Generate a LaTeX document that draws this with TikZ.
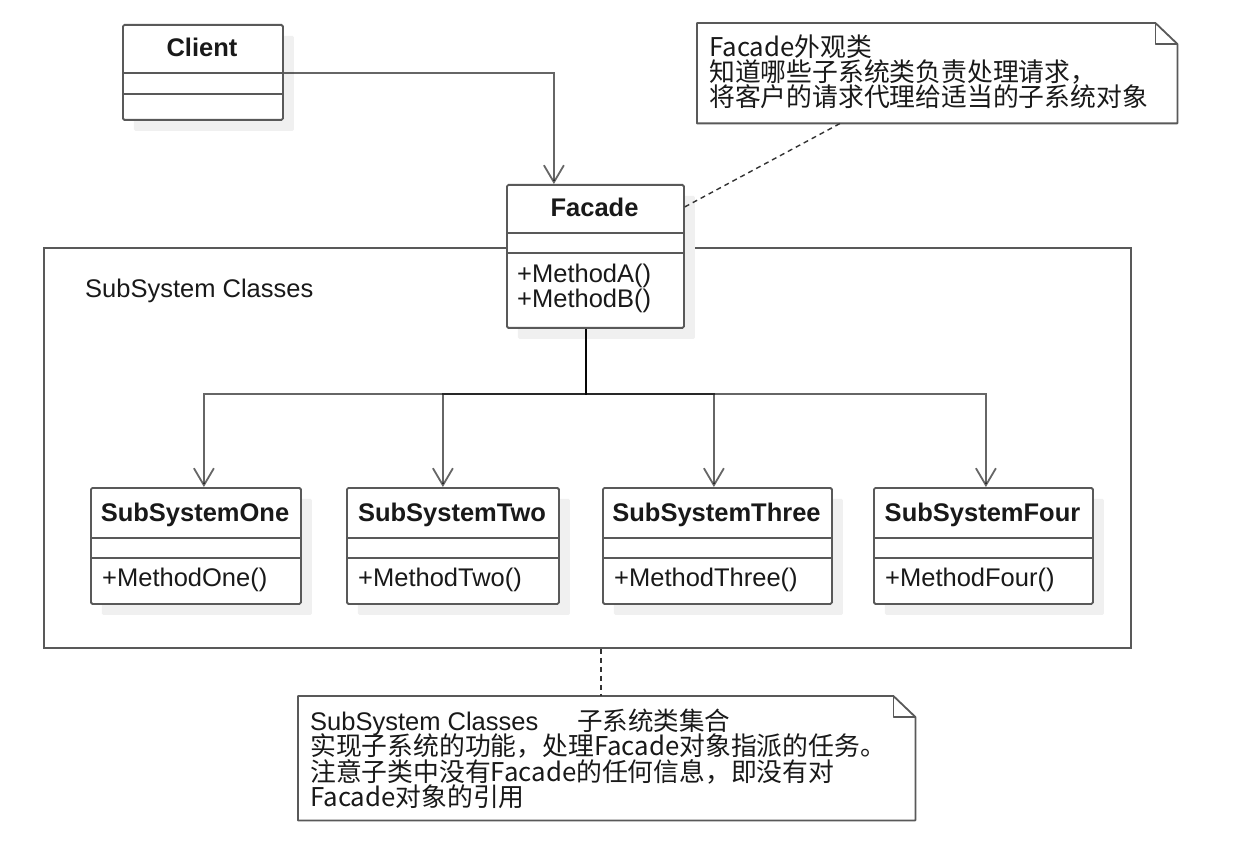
\documentclass[tikz,border=0pt]{standalone}
\usepackage{fontspec}
\setmainfont{Liberation Sans}
\newfontfamily\cjk{Noto Sans CJK SC}
\usetikzlibrary{arrows.meta,shadows}
\begin{document}
\begin{tikzpicture}[x=1pt,y=-1pt,
  every node/.style={font=\fontsize{25.5}{30}\selectfont, text=black!90, inner sep=0pt},
  clsbox/.style={draw=black!65, line width=1.8pt, fill=white, rounded corners=1.5pt,
     anchor=north west, inner sep=0pt,
     drop shadow={shadow xshift=11pt, shadow yshift=-11pt, fill=black!6, opacity=1}},
  divider/.style={draw=black!65, line width=1.8pt},
  clsname/.style={font=\fontsize{25.5}{30}\selectfont\bfseries, anchor=base},
  meth/.style={anchor=base west},
  conn/.style={draw=black, draw opacity=0.6, line width=1.8pt,
     -{Straight Barb[length=17pt,width=20pt]}},
  notebody/.style={anchor=north west, inner sep=0pt},
  noteline/.style={draw=black!65, line width=1.8pt, line join=round},
  notetext/.style={anchor=base west, font=\fontsize{25.8}{30}\selectfont\cjk},
  dashline/.style={draw=black!80, line width=1.4pt, dash pattern=on 5pt off 4pt}
]
\useasboundingbox (0,0) rectangle (1250,866);
\fill[white] (0,0) rectangle (1250,866);

% container
\node[draw=black!65, line width=1.8pt, minimum width=1087pt, minimum height=400pt,
  anchor=north west] (sub) at (43,247) {};
\node[anchor=base west] (sublbl) at (85,298) {SubSystem Classes};

% Client
\node[clsbox, minimum width=160pt, minimum height=95pt] (cl) at (122,24) {};
\draw[divider] ([yshift=-49pt]cl.north west) -- ([yshift=-49pt]cl.north east);
\draw[divider] ([yshift=-70pt]cl.north west) -- ([yshift=-70pt]cl.north east);
\node[clsname] (cln) at (202,57) {Client};

% Facade
\node[clsbox, minimum width=177pt, minimum height=143pt] (fac) at (506,184) {};
\draw[divider] ([yshift=-49pt]fac.north west) -- ([yshift=-49pt]fac.north east);
\draw[divider] ([yshift=-69pt]fac.north west) -- ([yshift=-69pt]fac.north east);
\node[clsname] (facn) at (594.5,217) {Facade};
\node[meth] (facm1) at (517,283) {+MethodA()};
\node[meth] (facm2) at (517,308) {+MethodB()};

% Subsystems
\node[clsbox, minimum width=210pt, minimum height=116pt] (s1) at (90,487) {};
\node[clsbox, minimum width=212pt, minimum height=116pt] (s2) at (346,487) {};
\node[clsbox, minimum width=229pt, minimum height=116pt] (s3) at (602,487) {};
\node[clsbox, minimum width=219pt, minimum height=116pt] (s4) at (873,487) {};
\foreach \s in {s1,s2,s3,s4}{
  \draw[divider] ([yshift=-51pt]\s.north west) -- ([yshift=-51pt]\s.north east);
  \draw[divider] ([yshift=-71pt]\s.north west) -- ([yshift=-71pt]\s.north east);
}
\node[clsname] (s1n) at (195,521) {SubSystemOne};
\node[clsname] (s2n) at (452,521) {SubSystemTwo};
\node[clsname] (s3n) at (716.5,521) {SubSystemThree};
\node[clsname] (s4n) at (982.5,521) {SubSystemFour};
\node[meth] (s1m) at (102,586) {+MethodOne()};
\node[meth] (s2m) at (358,586) {+MethodTwo()};
\node[meth] (s3m) at (614,586) {+MethodThree()};
\node[meth] (s4m) at (885,586) {+MethodFour()};

% connectors
\draw[conn] ([yshift=-49pt]cl.north east) -| ([xshift=-41.5pt]fac.north);
\draw[conn] ([xshift=-9.5pt]fac.south) -- ++(0,65) -| ([xshift=8pt]s1.north);
\draw[conn] ([xshift=-9.5pt]fac.south) -- ++(0,65) -| ([xshift=-10pt]s2.north);
\draw[conn] ([xshift=-9.5pt]fac.south) -- ++(0,65) -| ([xshift=-3.5pt]s3.north);
\draw[conn] ([xshift=-9.5pt]fac.south) -- ++(0,65) -| ([xshift=2.5pt]s4.north);

% top note
\node[notebody, minimum width=480pt, minimum height=100pt] (n1) at (697,23) {};
\draw[noteline] (n1.north west) -- ([xshift=-22pt]n1.north east)
  -- ([yshift=-21pt]n1.north east) -- (n1.south east) -- (n1.south west) -- cycle;
\draw[noteline] ([xshift=-22pt]n1.north east) |- ([yshift=-21pt]n1.north east);
\node[notetext] (n1a) at (709,57) {Facade外观类};
\node[notetext] (n1b) at (709,82) {知道哪些子系统类负责处理请求，};
\node[notetext] (n1c) at (709,107) {将客户的请求代理给适当的子系统对象};
\draw[dashline] ([yshift=49.5pt]fac.east) -- ([xshift=-97pt]n1.south);

% bottom note
\node[notebody, minimum width=617pt, minimum height=124pt] (n2) at (298,696) {};
\draw[noteline] (n2.north west) -- ([xshift=-22pt]n2.north east)
  -- ([yshift=-21pt]n2.north east) -- (n2.south east) -- (n2.south west) -- cycle;
\draw[noteline] ([xshift=-22pt]n2.north east) |- ([yshift=-21pt]n2.north east);
\node[anchor=base west] (n2a) at (310,730) {SubSystem Classes\hspace{39pt}{\cjk 子系统类集合}};
\node[notetext] (n2b) at (310,755.5) {实现子系统的功能，处理Facade对象指派的任务。};
\node[notetext] (n2c) at (310,781) {注意子类中没有Facade的任何信息，即没有对};
\node[notetext] (n2d) at (310,806.5) {Facade对象的引用};
\draw[dashline] ([xshift=13.5pt]sub.south) coordinate (d1) -- (d1 |- n2.north);
\end{tikzpicture}
\end{document}
